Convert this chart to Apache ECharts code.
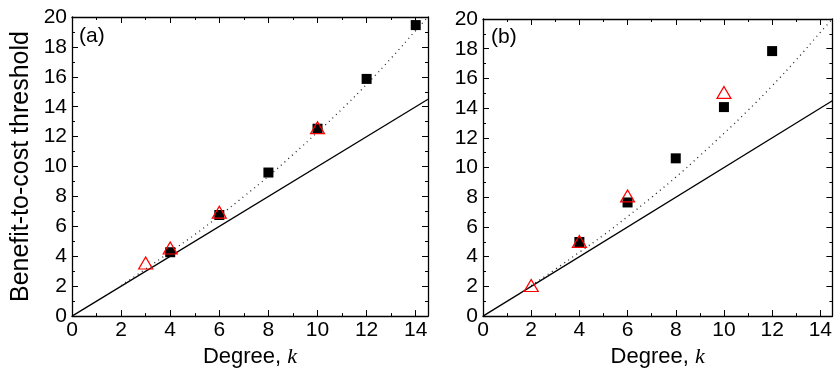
<!DOCTYPE html>
<html>
<head>
<meta charset="utf-8">
<script src="https://cdn.jsdelivr.net/npm/echarts@6/dist/echarts.min.js"></script>
<style>html,body{margin:0;padding:0;background:#fff;}#c{width:835px;height:373px;}</style>
</head>
<body>
<div id="c"></div>
<script>
// ---- data ----
var panelLabels = ['(a)', '(b)'];
var xTicks = [0, 2, 4, 6, 8, 10, 12, 14];
var yTicks = [0, 2, 4, 6, 8, 10, 12, 14, 16, 18, 20];
// solid reference line (b/c = k)
var lineK = [0, 14.5];
var lineB = [0, 14.5];
// dotted curve
var dotK = [2, 3, 4, 5, 6, 7, 8, 9, 10, 11, 12, 13, 14, 14.5];
var dotB = [2.05, 3.15, 4.3, 5.45, 6.7, 8.0, 9.35, 10.8, 12.3, 13.85, 15.5, 17.25, 19.1, 20.0];
// panel (a)
var aSqK = [4, 6, 8, 10, 12, 14];
var aSqB = [4.27, 6.76, 9.6, 12.53, 15.86, 19.46];
var aTriK = [3, 4, 6, 10];
var aTriB = [3.55, 4.55, 6.95, 12.6];
// panel (b)
var bSqK = [4, 6, 8, 10, 12];
var bSqB = [4.99, 7.65, 10.62, 14.07, 17.84];
var bTriK = [2, 4, 6, 10];
var bTriB = [2.06, 5.03, 8.09, 15.06];

function zip(a, b) { return a.map(function (v, i) { return [v, b[i]]; }); }

var FONT = 'Liberation Sans, Arial, sans-serif';
var lineCol = '#000';

function xAx(grid, pos) {
  var isBottom = pos === 'bottom';
  return {
    type: 'value', gridIndex: grid, position: pos, min: 0, max: 14.5, interval: 2,
    axisLine: { show: true, onZero: false, lineStyle: { color: lineCol, width: 1.3 } },
    axisTick: { show: true, inside: true, length: 6, lineStyle: { color: lineCol, width: 1 } },
    minorTick: { show: true, splitNumber: 2, length: 3, lineStyle: { color: lineCol, width: 1 } },
    splitLine: { show: false },
    axisLabel: {
      show: isBottom, showMaxLabel: false, margin: 4, color: '#000', fontSize: 21, fontFamily: FONT,
      formatter: function (v) { return xTicks.indexOf(v) >= 0 ? String(v) : ''; }
    },
    name: isBottom ? '{a|Degree, }{k|k}' : '',
    nameLocation: 'middle', nameGap: 20,
    nameTextStyle: {
      rich: {
        a: { fontSize: 22, fontFamily: FONT, color: '#000' },
        k: { fontSize: 22, fontFamily: 'Liberation Serif, Times New Roman, serif', fontStyle: 'italic', color: '#000' }
      }
    }
  };
}
function yAx(grid, pos, withName) {
  var isLeft = pos === 'left';
  return {
    type: 'value', gridIndex: grid, position: pos, min: 0, max: 20, interval: 2,
    axisLine: { show: true, onZero: false, lineStyle: { color: lineCol, width: 1.3 } },
    axisTick: { show: true, inside: true, length: 6, lineStyle: { color: lineCol, width: 1 } },
    minorTick: { show: true, splitNumber: 2, length: 3, lineStyle: { color: lineCol, width: 1 } },
    splitLine: { show: false },
    axisLabel: {
      show: isLeft, margin: 5, color: '#000', fontSize: 21, fontFamily: FONT,
      formatter: function (v) { return yTicks.indexOf(v) >= 0 ? String(v) : ''; }
    },
    name: withName ? 'Benefit-to-cost threshold' : '',
    nameLocation: 'middle', nameGap: 38,
    nameTextStyle: { fontSize: 25, fontFamily: FONT, color: '#000' }
  };
}

function panelSeries(xi, yi, sqK, sqB, triK, triB) {
  return [
    { type: 'line', xAxisIndex: xi, yAxisIndex: yi, data: zip(lineK, lineB), symbol: 'none',
      lineStyle: { color: '#000', width: 1.3 }, silent: true, z: 2 },
    { type: 'line', xAxisIndex: xi, yAxisIndex: yi, data: zip(dotK, dotB), symbol: 'none', smooth: true,
      lineStyle: { color: '#222', width: 1.3, type: [1, 4] }, silent: true, z: 2 },
    { type: 'scatter', xAxisIndex: xi, yAxisIndex: yi, data: zip(sqK, sqB), symbol: 'rect', symbolSize: 10,
      itemStyle: { color: '#000', opacity: 1 }, z: 3 },
    { type: 'scatter', xAxisIndex: xi, yAxisIndex: yi, data: zip(triK, triB), symbol: 'triangle', symbolSize: [14, 12],
      itemStyle: { color: 'rgba(0,0,0,0)', borderColor: '#ff0000', borderWidth: 1.2, opacity: 1 }, z: 4 }
  ];
}

var chart = echarts.init(document.getElementById('c'), null, { renderer: 'canvas' });
chart.setOption({
  backgroundColor: '#fff',
  animation: false,
  grid: [
    { left: 72, top: 17, width: 356, height: 308 },
    { left: 483, top: 19, width: 356, height: 308 }
  ],
  xAxis: [xAx(0, 'bottom'), xAx(0, 'top'), xAx(1, 'bottom'), xAx(1, 'top')],
  yAxis: [yAx(0, 'left', true), yAx(0, 'right', false), yAx(1, 'left', false), yAx(1, 'right', false)],
  graphic: [
    { type: 'text', left: 79, top: 26, style: { text: panelLabels[0], fontSize: 21, fontFamily: FONT, fill: '#000' } },
    { type: 'text', left: 491, top: 27, style: { text: panelLabels[1], fontSize: 21, fontFamily: FONT, fill: '#000' } }
  ],
  series: [].concat(
    panelSeries(0, 0, aSqK, aSqB, aTriK, aTriB),
    panelSeries(2, 2, bSqK, bSqB, bTriK, bTriB)
  )
});
</script>
</body>
</html>
